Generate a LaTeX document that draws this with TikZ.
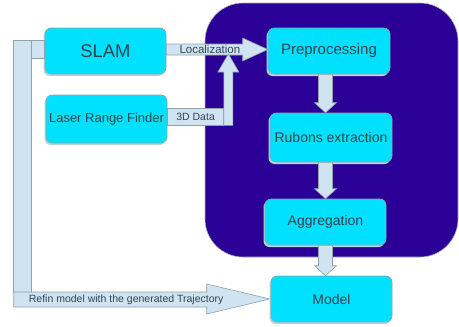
\documentclass[tikz,border=0pt]{standalone}
\usepackage{fontspec}
\setmainfont{Liberation Sans}
\usetikzlibrary{calc,shadows}
\definecolor{bgblue}{HTML}{2A0096}
\definecolor{boxcyan}{HTML}{00E1FF}
\definecolor{fatfill}{HTML}{CFE3F1}
\definecolor{edgegray}{HTML}{8FA3AB}
\definecolor{txt}{HTML}{34444E}
\definecolor{shadowc}{HTML}{B4D8D8}
\begin{document}
\begin{tikzpicture}[x=1pt,y=-1pt,
  boxnode/.style={draw=edgegray, fill=boxcyan, rounded corners=6pt, line width=0.6pt,
    text=txt, font=\fontsize{14}{16}\selectfont, inner sep=0pt,
    drop shadow={shadow xshift=-1.5pt, shadow yshift=-2pt, fill=shadowc, opacity=1}},
  bgbox/.style={draw=gray!60, fill=bgblue, rounded corners=38pt, line width=0.6pt, inner sep=0pt},
  fat/.style={draw=edgegray, fill=fatfill, line width=0.6pt, line join=miter},
  lbl/.style={text=txt, font=\fontsize{10.5}{12}\selectfont, inner sep=0pt},
  fatbox/.style={fat, inner sep=0pt, lbl}
]
\useasboundingbox (0,0) rectangle (459,327);
% group background
\node[bgbox, minimum width=253pt, minimum height=254pt] (grp) at (331.5,130) {};
% boxes
\node[boxnode, minimum width=121pt, minimum height=46pt, font=\fontsize{18.4}{20}\selectfont] (slam) at (105.5,51) {SLAM};
\node[boxnode, minimum width=121pt, minimum height=48pt, font=\fontsize{13}{15}\selectfont] (lrf) at (106.5,119) {Laser Range Finder};
\node[boxnode, minimum width=122pt, minimum height=46pt, font=\fontsize{15}{17}\selectfont] (pre) at (329,51) {Preprocessing};
\node[boxnode, minimum width=122pt, minimum height=49pt] (rub) at (331,137.5) {Rubons extraction};
\node[boxnode, minimum width=121pt, minimum height=46pt] (agg) at (325.5,222) {Aggregation};
\node[boxnode, minimum width=121pt, minimum height=46pt] (model) at (331.5,299) {Model};
% Localization arrow
\coordinate (locbot) at ($(slam.east)+(0,4)$);
\draw[fat] ($(slam.east)+(0,-7)$) -- ($(pre.west)+(-25,-7)$) -- ($(pre.west)+(-25,-13)$)
  -- ($(pre.west)+(0,-1.5)$) -- ($(pre.west)+(-25,10)$) -- ($(pre.west)+(-25,4)$) -- (locbot) -- cycle;
\node[lbl, font=\fontsize{11.5}{13}\selectfont, anchor=west] (loclbl) at ($(slam.east)+(13,-1.5)$) {Localization};
% 3D Data arrow
\node[fatbox, minimum width=56pt, minimum height=17pt, anchor=west] (d3) at ($(lrf.east)+(0,-2.5)$) {3D Data};
\coordinate (vx) at ($(d3.east)+(4.5,0)$);
\draw[fat] (d3.south east) -- ($(d3.south east)+(9,0)$) -- ($(vx |- locbot)+(4.5,17)$)
  -- ($(vx |- locbot)+(10.5,17)$) -- ($(vx |- locbot)+(0,-1)$) -- ($(vx |- locbot)+(-10.5,17)$)
  -- ($(vx |- locbot)+(-4.5,17)$) -- cycle;
% vertical fat arrows
\coordinate (ax) at (325.5,0);
\newcommand\downfat[2]{\draw[fat] ($(#1.south -| ax)+(-7,0)$) -- ($(#2.north -| ax)+(-7,-10)$)
  -- ($(#2.north -| ax)+(-11,-10)$) -- (#2.north -| ax) -- ($(#2.north -| ax)+(11,-10)$)
  -- ($(#2.north -| ax)+(7,-10)$) -- ($(#1.south -| ax)+(7,0)$) -- cycle;}
\downfat{pre}{rub}
\downfat{rub}{agg}
\downfat{agg}{model}
% feedback arrow
\coordinate (fbtop) at ($(slam.west)+(-31,-11)$);
\coordinate (fbcorner) at ($(slam.west |- model.west)+(-31,0)$);
\draw[fat] (fbtop) rectangle ($(fbcorner)+(18,-7)$);
\draw[fat] ($(slam.west)+(-13,-11)$) rectangle ($(slam.west)+(0,7)$);
\draw[fat] ($(fbcorner)+(0,-7)$) -- ($(model.west)+(-64,-7)$) -- ($(model.west)+(-64,-15)$)
  -- ($(model.west)+(-1,0)$) -- ($(model.west)+(-64,15)$) -- ($(model.west)+(-64,8)$)
  -- ($(fbcorner)+(0,8)$) -- cycle;
\node[lbl, anchor=west] (fblbl) at ($(fbcorner)+(15,0.5)$) {Refin model with the generated Trajectory};
\end{tikzpicture}
\end{document}
